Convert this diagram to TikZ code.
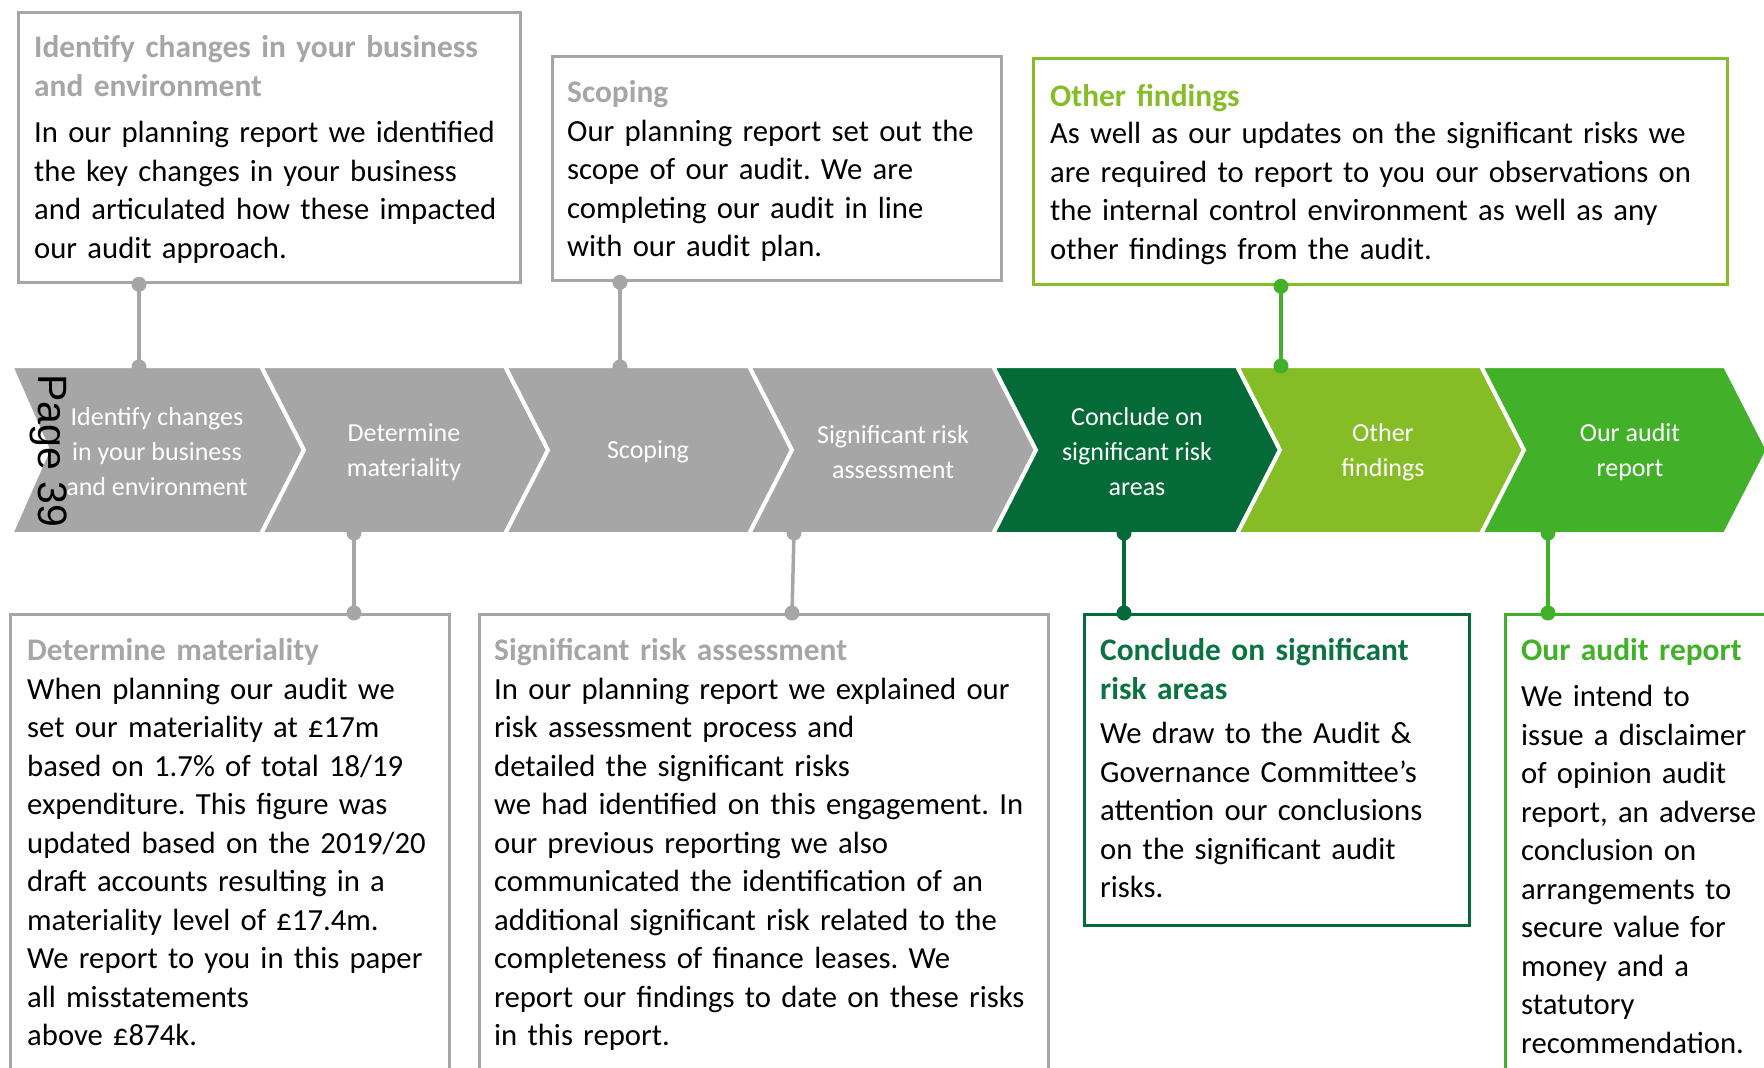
\documentclass[tikz,border=0pt]{standalone}
\usepackage{fontspec}
\setmainfont{Carlito}
\newfontfamily\pagefont{Liberation Sans}
\usetikzlibrary{calc}
\frenchspacing
\definecolor{gry}{HTML}{A6A6A6}
\definecolor{dkgreen}{HTML}{046A38}
\definecolor{ltgreen}{HTML}{86BC25}
\definecolor{mdgreen}{HTML}{43B02A}
\definecolor{ttlgreen}{HTML}{0A7340}
\tikzset{
  panel/.style={draw=#1, line width=3.3pt, inner sep=0pt, anchor=north west},
  chev/.style={fill=#1, draw=white, line width=4pt, line join=miter},
  conn/.style={draw=#1, line width=3.5pt},
  chevtext/.style={text=white, align=center, inner sep=0pt, font=\fontsize{26}{35}\selectfont},
  ttl/.style={anchor=base west, inner sep=0pt, align=left, text width=720pt, font=\fontsize{31.4}{38.5}\selectfont\bfseries},
  bdy/.style={anchor=base west, inner sep=0pt, align=left, text width=720pt, font=\fontsize{30.7}{38.5}\selectfont, text=black},
}
\newcommand\mychev[4]{\path[chev=#3] (#1,366) -- (#2,366) -- ({#2+43},450) -- (#2,534) -- (#1,534) -- ({#1+#4},450) -- cycle;}
\begin{document}
\begin{tikzpicture}[x=1pt,y=-1pt]
\useasboundingbox (0,0) rectangle (1764,1068);
\clip (0,0) rectangle (1764,1068);
\fill[white] (0,0) rectangle (1764,1068);

% chevrons
\mychev{11}{261}{gry}{37}
\mychev{261}{505}{gry}{43}
\mychev{505}{749}{gry}{43}
\mychev{749}{993}{gry}{43}
\mychev{993}{1237}{dkgreen}{43}
\mychev{1237}{1481}{ltgreen}{43}
\mychev{1481}{1725}{mdgreen}{43}

\node[chevtext] (ch1) at (157,452) {Identify changes\\in your business\\and environment};
\node[chevtext] (ch2) at (404,452) {Determine\\materiality};
\node[chevtext] (ch3) at (648,452) {Scoping};
\node[chevtext] (ch4) at (893,452) {Significant risk\\assessment};
\node[chevtext] (ch5) at (1137,452) {Conclude on\\significant risk\\areas};
\node[chevtext] (ch6) at (1383,452) {Other\\findings};
\node[chevtext] (ch7) at (1630,452) {Our audit\\report};

\node[rotate=-90, inner sep=0pt, font=\pagefont\fontsize{41}{50}\selectfont] (pg) at (49,451) {Page 39};

% panels
\node[panel=gry, minimum width=502pt, minimum height=270pt] (b1) at (17,11) {};
\node[panel=gry, minimum width=449pt, minimum height=224pt] (b2) at (551,55) {};
\node[panel=ltgreen, minimum width=694pt, minimum height=226pt] (b3) at (1032,57) {};
\node[panel=gry, minimum width=439pt, minimum height=480pt] (b4) at (9,613) {};
\node[panel=gry, minimum width=569pt, minimum height=480pt] (b5) at (478,613) {};
\node[panel=dkgreen, minimum width=385pt, minimum height=311pt] (b6) at (1083,613) {};
\node[panel=mdgreen, minimum width=300pt, minimum height=480pt] (b7) at (1504,613) {};

% connector ends on the chevron band
\coordinate (e1) at (139,367);
\coordinate (e2) at (620,367);
\coordinate (e3) at (1281,366);
\coordinate (e4) at (354,533);
\coordinate (e5) at (794,533);
\coordinate (e6) at (1124,533);
\coordinate (e7) at (1548,533);
\coordinate (s5) at (792,613);

\draw[conn=gry] (b1.south -| e1) -- (e1);
\fill[gry] (b1.south -| e1) circle (7.5pt) (e1) circle (7.5pt);
\draw[conn=gry] (b2.south -| e2) -- (e2);
\fill[gry] (b2.south -| e2) circle (7.5pt) (e2) circle (7.5pt);
\draw[conn=mdgreen] (b3.south -| e3) -- (e3);
\fill[mdgreen] (b3.south -| e3) circle (7.5pt) (e3) circle (7.5pt);
\draw[conn=gry] (e4) -- (b4.north -| e4);
\fill[gry] (e4) circle (7.5pt) (b4.north -| e4) circle (7.5pt);
\draw[conn=gry] (e5) -- (s5);
\fill[gry] (e5) circle (7.5pt) (s5) circle (7.5pt);
\draw[conn=dkgreen] (e6) -- (b6.north -| e6);
\fill[dkgreen] (e6) circle (7.5pt) (b6.north -| e6) circle (7.5pt);
\draw[conn=mdgreen] (e7) -- (b7.north -| e7);
\fill[mdgreen] (e7) circle (7.5pt) (b7.north -| e7) circle (7.5pt);

% texts
\node[ttl, text=gry] (h1) at (34,57.5) {Identify changes in your business\\and environment};
\node[bdy] (p1) at (34,142.5) {In our planning report we identified\\the key changes in your business\\and articulated how these impacted\\our audit approach.};

\node[ttl, text=gry] (h2) at (567,102.5) {Scoping};
\node[bdy] (p2) at (567,141) {Our planning report set out the\\scope of our audit. We are\\completing our audit in line\\with our audit plan.};

\node[ttl, text=ltgreen] (h3) at (1050,106) {Other findings};
\node[bdy] (p3) at (1050,143.5) {As well as our updates on the significant risks we\\are required to report to you our observations on\\the internal control environment as well as any\\other findings from the audit.};

\node[ttl, text=gry] (h4) at (27,660.5) {Determine materiality};
\node[bdy] (p4) at (27,699) {When planning our audit we\\set our materiality at £17m\\based on 1.7\% of total 18/19\\expenditure. This figure was\\updated based on the 2019/20\\draft accounts resulting in a\\materiality level of £17.4m.\\We report to you in this paper\\all misstatements\\above £874k.};

\node[ttl, text=gry] (h5) at (494,660.5) {Significant risk assessment};
\node[bdy] (p5) at (494,699) {In our planning report we explained our\\risk assessment process and\\detailed the significant risks\\we had identified on this engagement. In\\our previous reporting we also\\communicated the identification of an\\additional significant risk related to the\\completeness of finance leases. We\\report our findings to date on these risks\\in this report.};

\node[ttl, text=ttlgreen] (h6) at (1100,660.5) {Conclude on significant\\risk areas};
\node[bdy] (p6) at (1100,743.5) {We draw to the Audit \&\\Governance Committee’s\\attention our conclusions\\on the significant audit\\risks.};

\node[ttl, text=mdgreen] (h7) at (1521,660.5) {Our audit report};
\node[bdy] (p7) at (1521,706.5) {We intend to\\issue a disclaimer\\of opinion audit\\report, an adverse\\conclusion on\\arrangements to\\secure value for\\money and a\\statutory\\recommendation.};
\end{tikzpicture}
\end{document}
